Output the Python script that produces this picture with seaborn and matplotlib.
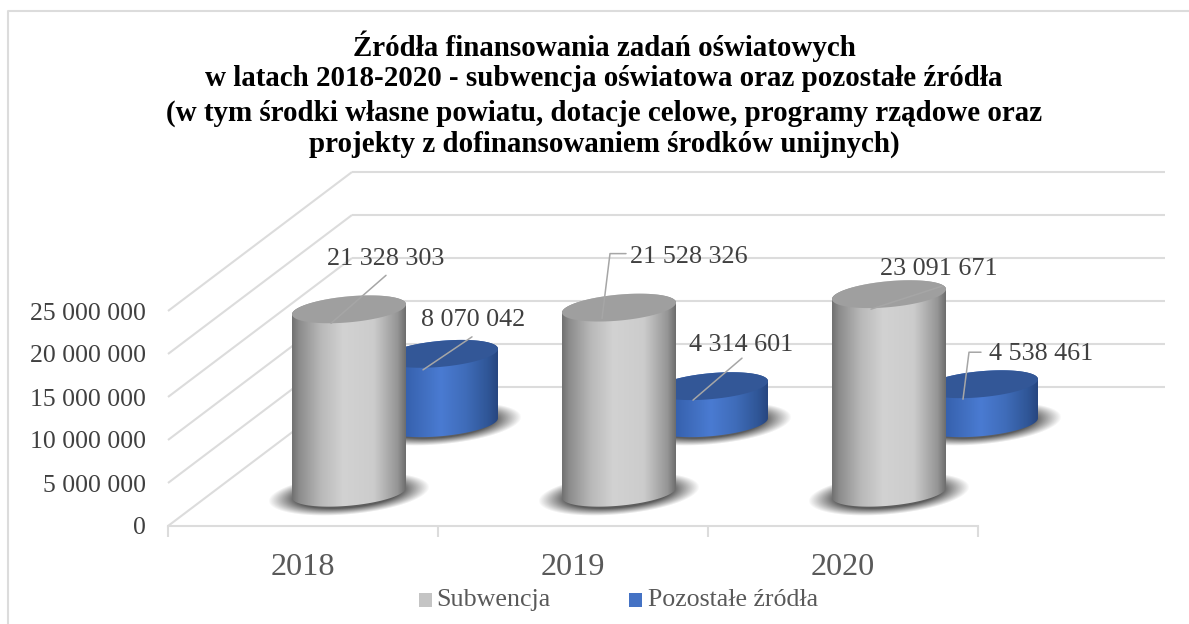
import numpy as np
import pandas as pd
import seaborn as sns
import matplotlib.pyplot as plt
from matplotlib.lines import Line2D
from matplotlib.patches import Polygon, Rectangle
from matplotlib.colors import LinearSegmentedColormap

years = ["2018", "2019", "2020"]
subwencja = [21328303, 21528326, 23091671]
pozostale = [8070042, 4314601, 4538461]
series_names = ["Subwencja", "Pozostałe źródła"]
y_ticks = [0, 5000000, 10000000, 15000000, 20000000, 25000000]
title_lines = [
    "Źródła finansowania zadań oświatowych",
    "w latach 2018-2020 - subwencja oświatowa oraz pozostałe źródła",
    "(w tym środki własne powiatu, dotacje celowe, programy rządowe oraz",
    "projekty z dofinansowaniem środków unijnych)",
]

W, H = 1189, 624
FONT = "Liberation Serif"
TEXT = "#404040"
GRID = "#dcdcdc"

df = pd.DataFrame({
    "rok": years * 2,
    "wartosc": subwencja + pozostale,
    "zrodlo": [series_names[0]] * 3 + [series_names[1]] * 3,
})

sns.set_style("white")
plt.rcParams["font.family"] = [FONT, "DejaVu Serif"]
fig = plt.figure(figsize=(W / 100, H / 100), dpi=100)
ax = fig.add_axes([168 / W, 1 - 526 / H, 810 / W, 215 / H])

# bars only give the heights and slots, the cylinders are painted over them
sns.barplot(data=df, x="rok", y="wartosc", hue="zrodlo", dodge=False, width=0.42,
            palette=["#a5a5a5", "#4472c4"], legend=False, ax=ax)
ax.set_xlim(-0.5, 2.5)
ax.set_ylim(0, 25000000)

px_x = 270.0
px_y = 215 / 25000000
DEPTH_X, DEPTH_Y = 184, 139


def to_data(x_px, y_px):
    return x_px / px_x, y_px / px_y


# walls
dx_wall, dy_wall = to_data(DEPTH_X, DEPTH_Y)
for t in y_ticks:
    ax.plot([-0.5, -0.5 + dx_wall], [t, t + dy_wall], color=GRID, lw=1.5,
            clip_on=False, zorder=1, solid_capstyle="butt")
    ax.plot([-0.5 + dx_wall, -0.5 + 997 / px_x], [t + dy_wall, t + dy_wall], color=GRID,
            lw=1.5, clip_on=False, zorder=1, solid_capstyle="butt")

gray_map = LinearSegmentedColormap.from_list("g", [
    (0, "#727272"), (0.06, "#8c8c8c"), (0.25, "#b8b8b8"), (0.45, "#d2d2d2"),
    (0.72, "#cccccc"), (0.93, "#959595"), (1, "#6e6e6e")])
blue_map = LinearSegmentedColormap.from_list("b", [
    (0, "#2a4c8c"), (0.1, "#3059a3"), (0.35, "#416fc0"), (0.5, "#4a7bd2"),
    (0.72, "#3f6cb9"), (0.92, "#2f5596"), (1, "#274680")])
styles = [
    {"depth": 0.25, "map": gray_map, "cap": "#9f9f9f", "z": 6},
    {"depth": 0.75, "map": blue_map, "cap": "#335797", "z": 3},
]
A, B, K = 57, 13, 5
BASE_SHIFT = 1.5


def ring(cx, cy, t):
    return cx + A * np.cos(t) / px_x, cy + (B * np.sin(t) + K * np.cos(t)) / px_y


def draw_shadow(cx, cy, z):
    xs = np.linspace(-88, 88, 176)
    ys = np.linspace(32, -32, 64)
    gx, gy = np.meshgrid(xs, ys)
    r = np.sqrt((gx / 81) ** 2 + ((gy - gx * K / A + 1) / 21) ** 2)
    alpha = np.clip((1 - r) / 0.34, 0, 1) * 0.8
    img = np.zeros(gx.shape + (4,))
    img[..., :3] = 0.2
    img[..., 3] = alpha
    ax.imshow(img, aspect="auto", zorder=z, clip_on=False, interpolation="bilinear",
              extent=[cx - 88 / px_x, cx + 88 / px_x, cy - 32 / px_y, cy + 32 / px_y])


def draw_cylinder(cx, y0, value, st):
    top = y0 + value
    z = st["z"]
    draw_shadow(cx, y0, z)
    upper = np.linspace(0, np.pi, 60)
    lower = np.linspace(np.pi, 2 * np.pi, 60)
    xa, ya = ring(cx, top, upper)
    xb, yb = ring(cx, y0, lower)
    body = Polygon(np.column_stack([np.r_[xa, xb], np.r_[ya, yb]]), closed=True,
                   transform=ax.transData, facecolor="none", edgecolor="none")
    ax.add_patch(body)
    body.set_clip_on(False)
    grad = ax.imshow(np.linspace(0, 1, 200)[None, :], cmap=st["map"], vmin=0, vmax=1,
                     aspect="auto", zorder=z + 0.1, interpolation="bilinear",
                     extent=[cx - A / px_x, cx + A / px_x, y0 - 30 / px_y, top + 30 / px_y])
    grad.set_clip_path(body)
    grad.set_clip_box(fig.bbox)
    xc, yc = ring(cx, top, np.linspace(0, 2 * np.pi, 120))
    ax.fill(xc, yc, color=st["cap"], lw=0, zorder=z + 0.2, clip_on=False)


# leader line points and label centres in pixels from the cylinder's cap centre
leaders = {
    (0, 0): ([(-18, 14), (37, -34)], (37, -50)),
    (1, 0): ([(-17, 11), (-9, -54), (7, -54)], (70, -51)),
    (2, 0): ([(-18, 15), (53, -8)], (50, -25)),
    (0, 1): ([(-18, 16), (31, -17)], (32, -34)),
    (1, 1): ([(-18, 14), (31, -28)], (30, -41)),
    (2, 1): ([(-18, 15), (-12, -32), (0, -32)], (60, -30)),
}
for s, name in enumerate(series_names):
    st = styles[s]
    shift_x, shift_y = to_data(DEPTH_X * st["depth"], DEPTH_Y * st["depth"] - BASE_SHIFT)
    for i, bar in enumerate(ax.containers[s]):
        bar.set_visible(False)
        cx = bar.get_x() + bar.get_width() / 2 + shift_x
        value = bar.get_height()
        draw_cylinder(cx, shift_y, value, st)
        top = shift_y + value
        pts, lab = leaders[(i, s)]
        lx = [cx + p[0] / px_x for p in pts]
        ly = [top - p[1] / px_y for p in pts]
        ax.plot(lx, ly, color="#a6a6a6", lw=1.1, zorder=9, clip_on=False)
        label = f"{value:,.0f}".replace(",", " ")
        ax.text(cx + lab[0] / px_x, top - lab[1] / px_y, label, ha="center", va="center",
                fontsize=18.8, color=TEXT, zorder=10, clip_on=False)

# axes
sns.despine(ax=ax, left=True, top=True, right=True)
ax.spines["bottom"].set_color(GRID)
ax.spines["bottom"].set_linewidth(1.5)
ax.spines["bottom"].set_zorder(2)
ax.set_xlabel("")
ax.set_ylabel("")
ax.set_yticks(y_ticks)
ax.set_yticklabels([f"{t:,}".replace(",", " ") for t in y_ticks], fontsize=18.5, color=TEXT)
ax.tick_params(axis="y", length=0, pad=16)
ax.set_xticks(range(3))
ax.set_xticklabels(years, fontsize=23.2, color="#595959")
ax.tick_params(axis="x", length=0, pad=19.7)
for x in [-0.5, 0.5, 1.5, 2.5]:
    ax.plot([x, x], [0, -11 / px_y], color=GRID, lw=1.5, clip_on=False, zorder=2,
            solid_capstyle="butt")
ax.set_xlim(-0.5, 2.5)
ax.set_ylim(0, 25000000)
ax.patch.set_alpha(0)

# title
title_y = [56, 86.5, 121, 152]
for line, y in zip(title_lines, title_y):
    fig.text(604 / W, 1 - y / H, line, ha="center", va="baseline", fontsize=20.9,
             fontweight="bold", color="black")

# legend
fig.add_artist(Rectangle((419 / W, 1 - 607 / H), 13 / W, 14 / H, transform=fig.transFigure,
                         facecolor="#c4c4c4", edgecolor="none"))
fig.text(436 / W, 1 - 606 / H, series_names[0], ha="left", va="baseline", fontsize=18.7, color="#595959")
fig.add_artist(Rectangle((629 / W, 1 - 607 / H), 13 / W, 14 / H, transform=fig.transFigure,
                         facecolor="#4472c4", edgecolor="none"))
fig.text(648 / W, 1 - 606 / H, series_names[1], ha="left", va="baseline", fontsize=18.6, color="#595959")

# chart frame, cropped on the right and at the bottom
fig.add_artist(Line2D([8 / W, 8 / W, 1], [0, 1 - 11 / H, 1 - 11 / H], color=GRID, lw=1.5,
                      transform=fig.transFigure))

fig.savefig("out.png", dpi=100)
